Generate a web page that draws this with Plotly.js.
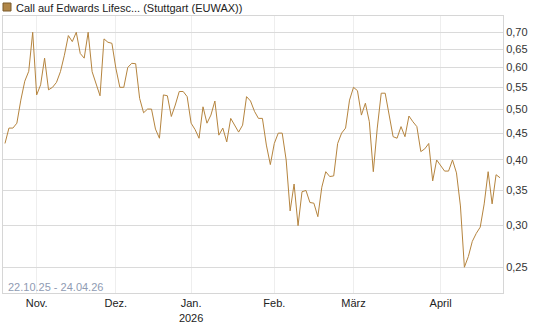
<!DOCTYPE html>
<html>
<head>
<meta charset="utf-8">
<script src="https://cdn.plot.ly/plotly-3.0.1.min.js"></script>
<style>
  html, body { margin: 0; padding: 0; background: #fff; }
  #chart { width: 545px; height: 327px; }
</style>
</head>
<body>
<div id="chart"></div>
<script>
// Trading days (Stuttgart EUWAX), 22.10.25 - 24.04.26
const dates = [
  "2025-10-22","2025-10-23","2025-10-24","2025-10-27","2025-10-28","2025-10-29","2025-10-30","2025-10-31",
  "2025-11-03","2025-11-04","2025-11-05","2025-11-06","2025-11-07","2025-11-10","2025-11-11","2025-11-12",
  "2025-11-13","2025-11-14","2025-11-17","2025-11-18","2025-11-19","2025-11-20","2025-11-21","2025-11-24",
  "2025-11-25","2025-11-26","2025-11-27","2025-11-28",
  "2025-12-01","2025-12-02","2025-12-03","2025-12-04","2025-12-05","2025-12-08","2025-12-09","2025-12-10",
  "2025-12-11","2025-12-12","2025-12-15","2025-12-16","2025-12-17","2025-12-18","2025-12-19","2025-12-22",
  "2025-12-23","2025-12-29","2025-12-30",
  "2026-01-02","2026-01-05","2026-01-06","2026-01-07","2026-01-08","2026-01-09","2026-01-12","2026-01-13",
  "2026-01-14","2026-01-15","2026-01-16","2026-01-19","2026-01-20","2026-01-21","2026-01-22","2026-01-23",
  "2026-01-26","2026-01-27","2026-01-28","2026-01-29","2026-01-30",
  "2026-02-02","2026-02-03","2026-02-04","2026-02-05","2026-02-06","2026-02-09","2026-02-10","2026-02-11",
  "2026-02-12","2026-02-13","2026-02-16","2026-02-17","2026-02-18","2026-02-19","2026-02-20","2026-02-23",
  "2026-02-24","2026-02-25","2026-02-26","2026-02-27",
  "2026-03-02","2026-03-03","2026-03-04","2026-03-05","2026-03-06","2026-03-09","2026-03-10","2026-03-11",
  "2026-03-12","2026-03-13","2026-03-16","2026-03-17","2026-03-18","2026-03-19","2026-03-20","2026-03-23",
  "2026-03-24","2026-03-25","2026-03-26","2026-03-27","2026-03-30","2026-03-31",
  "2026-04-01","2026-04-02","2026-04-07","2026-04-08","2026-04-09","2026-04-10","2026-04-13","2026-04-14",
  "2026-04-15","2026-04-16","2026-04-17","2026-04-20","2026-04-21","2026-04-22","2026-04-23","2026-04-24"
];

const prices = [
  0.43, 0.46, 0.46, 0.47, 0.52, 0.565, 0.59, 0.70,
  0.532, 0.556, 0.625, 0.544, 0.55, 0.562, 0.589, 0.633,
  0.69, 0.672, 0.70, 0.638, 0.625, 0.70, 0.589, 0.56,
  0.53, 0.68, 0.67, 0.667,
  0.598, 0.55, 0.55, 0.60, 0.611, 0.61, 0.524, 0.492,
  0.50, 0.50, 0.458, 0.44, 0.532, 0.53, 0.484, 0.509,
  0.54, 0.54, 0.528,
  0.47, 0.457, 0.44, 0.505, 0.47, 0.487, 0.518, 0.446,
  0.46, 0.433, 0.48, 0.467, 0.452, 0.466, 0.528, 0.518,
  0.495, 0.48, 0.48, 0.427, 0.392,
  0.43, 0.45, 0.45, 0.40, 0.32, 0.36, 0.30, 0.348,
  0.35, 0.332, 0.331, 0.312, 0.355, 0.38, 0.372, 0.373,
  0.43, 0.45, 0.46, 0.52,
  0.55, 0.542, 0.487, 0.513, 0.473, 0.38, 0.46, 0.536,
  0.536, 0.49, 0.443, 0.44, 0.463, 0.443, 0.485, 0.473,
  0.463, 0.415, 0.42, 0.43, 0.365, 0.40,
  0.391, 0.381, 0.381, 0.40, 0.378, 0.327, 0.25, 0.262,
  0.28, 0.29, 0.298, 0.33, 0.38, 0.33, 0.375, 0.37
];

const xTickVals = ["2025-11-03","2025-12-01","2026-01-02","2026-02-02","2026-03-02","2026-04-01"];
const xTickText = ["Nov.","Dez.","Jan.<br>2026","Feb.","März","April"];
const yTickVals = [0.25, 0.30, 0.35, 0.40, 0.45, 0.50, 0.55, 0.60, 0.65, 0.70];

const seriesName = "Call auf Edwards Lifesc... (Stuttgart (EUWAX))";
const periodText = "22.10.25 - 24.04.26";
const lineColor = "#b5843e";

const font = "Liberation Sans, Arial, sans-serif";

const trace = {
  x: dates,
  y: prices,
  type: "scatter",
  mode: "lines",
  line: { color: lineColor, width: 1 },
  hoverinfo: "skip",
  showlegend: false
};

const layout = {
  width: 545,
  height: 327,
  margin: { l: 3, r: 42, t: 16, b: 34 },
  paper_bgcolor: "#ffffff",
  plot_bgcolor: "#ffffff",
  separators: ",.",
  font: { family: font, size: 11, color: "#333" },
  showlegend: false,
  xaxis: {
    type: "category",
    range: [-0.5, 125.75],
    tickmode: "array",
    tickvals: xTickVals,
    ticktext: xTickText,
    showgrid: true,
    gridcolor: "#eeeeee",
    gridwidth: 1,
    showline: true,
    linecolor: "#d6d6d6",
    linewidth: 1,
    mirror: true,
    ticks: "",
    zeroline: false,
    tickfont: { family: font, size: 11, color: "#222" },
    fixedrange: true
  },
  yaxis: {
    type: "log",
    side: "right",
    range: [Math.log10(0.2233), Math.log10(0.7518)],
    tickmode: "array",
    tickvals: yTickVals,
    tickformat: ".2f",
    showgrid: true,
    gridcolor: "#dadada",
    gridwidth: 1,
    showline: true,
    linecolor: "#d6d6d6",
    linewidth: 1,
    mirror: true,
    ticks: "",
    zeroline: false,
    tickfont: { family: font, size: 11, color: "#333" },
    fixedrange: true
  },
  shapes: [
    {
      type: "rect",
      xref: "paper", yref: "paper",
      xsizemode: "pixel", ysizemode: "pixel",
      xanchor: 0, yanchor: 1,
      x0: 0, x1: 8, y0: 5, y1: 13,
      fillcolor: "#b08648",
      line: { color: "#7a5a2a", width: 1 }
    }
  ],
  annotations: [
    {
      text: seriesName,
      xref: "paper", yref: "paper",
      x: 0.022, y: 1 + 8.5 / 277,
      xanchor: "left", yanchor: "middle",
      showarrow: false,
      font: { family: font, size: 11, color: "#222" }
    },
    {
      text: periodText,
      xref: "paper", yref: "paper",
      x: 0.006, y: 6 / 277,
      xanchor: "left", yanchor: "middle",
      showarrow: false,
      font: { family: font, size: 11, color: "#8f9bb3" }
    }
  ]
};

Plotly.newPlot("chart", [trace], layout, { staticPlot: true, displayModeBar: false });
</script>
</body>
</html>
